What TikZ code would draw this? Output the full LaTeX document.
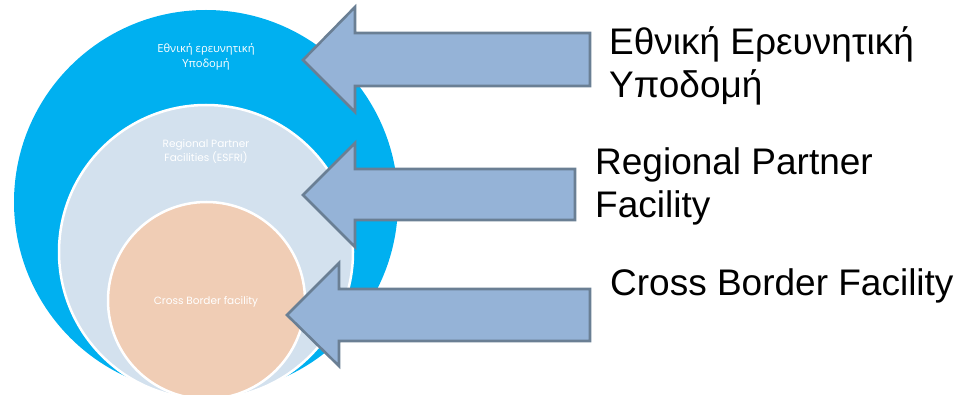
\documentclass[tikz,border=0pt]{standalone}
\usepackage{fontspec}
\setmainfont{Liberation Sans}
\newfontfamily\smallgr{Open Sans}
\newfontfamily\smalllat{Poppins}
\definecolor{outerblue}{HTML}{00B0F0}
\definecolor{midblue}{HTML}{D3E1EE}
\definecolor{peach}{HTML}{F0CDB5}
\definecolor{arrowfill}{HTML}{95B3D7}
\definecolor{arrowline}{HTML}{6A7F94}
\tikzset{
  ring/.style={circle, inner sep=0pt, outer sep=0pt},
  inlabel/.style={text=white, align=center, inner sep=0pt},
  bigarrow/.style={fill=arrowfill, draw=arrowline, line width=2.6pt, line join=miter},
  sidelabel/.style={anchor=base west, align=left, inner sep=0pt, font=\fontsize{37}{43}\selectfont}
}
\begin{document}
\begin{tikzpicture}[x=1pt, y=-1pt]
\useasboundingbox (0,0) rectangle (961,395);
\node[ring, fill=outerblue, minimum size=384pt] (outer) at (206,202) {};
\node[ring, fill=midblue, draw=white, line width=2.5pt, minimum size=294pt] (middle) at (206,252) {};
\node[ring, fill=peach, draw=white, line width=2.5pt, minimum size=197pt] (inner) at (206.5,300.5) {};
\node[inlabel, font=\smallgr\fontsize{11.2}{15}\selectfont] (t1) at (206,57) {Εθνική ερευνητική\\Υποδομή};
\node[inlabel, font=\smalllat\fontsize{10.5}{14}\selectfont] (t2) at (206,151) {Regional Partner\\Facilities (ESFRI)};
\node[inlabel, font=\smalllat\fontsize{10.5}{14}\selectfont] (t3) at (206,302) {Cross Border facility};
\draw[bigarrow] (303,60) -- (355,7) -- (355,33) -- (590,33) -- (590,86) -- (355,86) -- (355,112) -- cycle;
\draw[bigarrow] (303,195) -- (355,143) -- (355,169) -- (575,169) -- (575,220) -- (355,220) -- (355,247) -- cycle;
\draw[bigarrow] (287,315) -- (339,263) -- (339,289) -- (590,289) -- (590,341) -- (339,341) -- (339,366) -- cycle;
\node[sidelabel] (l1) at (609,98) {Εθνική Ερευνητική\\Υποδομή};
\node[sidelabel] (l2) at (595,218) {Regional Partner\\Facility};
\node[sidelabel] (l3) at (610,295) {Cross Border Facility};
\end{tikzpicture}
\end{document}
